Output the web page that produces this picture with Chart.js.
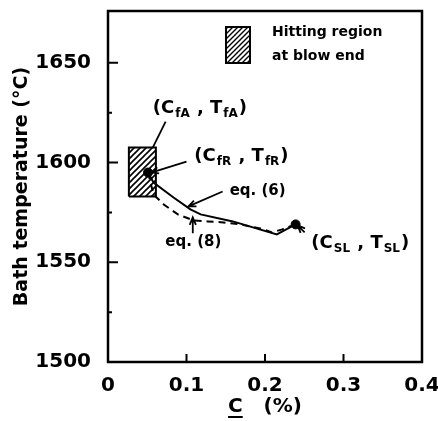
<!DOCTYPE html>
<html><head><meta charset="utf-8">
<script src="https://cdn.jsdelivr.net/npm/chart.js@4.4.0/dist/chart.umd.min.js"></script>
<style>html,body{margin:0;padding:0;background:#fff}</style>
</head><body>
<canvas id="c" width="438" height="421"></canvas>
<script>
// ---- data ----
const eq6C = [0.051, 0.058, 0.0835, 0.105, 0.118, 0.159, 0.215, 0.239];
const eq6T = [1595, 1590, 1582.5, 1576.5, 1574, 1570.5, 1564, 1569];
const eq8C = [0.051, 0.058, 0.071, 0.089, 0.109, 0.127, 0.147, 0.168, 0.194, 0.209, 0.222, 0.239];
const eq8T = [1595, 1584, 1579, 1574, 1571, 1570.5, 1570, 1569, 1567, 1565, 1566.5, 1569];
const regionC = [0.0266, 0.061];
const regionT = [1583, 1607.5];
const pointC = [0.051, 0.239];
const pointT = [1595, 1569];
const xTicks = [0, 0.1, 0.2, 0.3, 0.4];
const xTickLabels = ['0', '0.1', '0.2', '0.3', '0.4'];
const yTicks = [1500, 1550, 1600, 1650];
const yTickLabels = ['1500', '1550', '1600', '1650'];
const yMinorTicks = [1525, 1575, 1625];
const legendLines = ['Hitting region', 'at blow end'];

// annotation texts (parts: [text, isSubscript])
const annFA = [['(',0],['C',0],['fA',1],[' , ',0],['T',0],['fA',1],[')',0]];
const annFR = [['(',0],['C',0],['fR',1],[' , ',0],['T',0],['fR',1],[')',0]];
const annSL = [['(',0],['C',0],['SL',1],[' , ',0],['T',0],['SL',1],[')',0]];
const annEq6 = 'eq. (6)';
const annEq8 = 'eq. (8)';

const FONT = '"DejaVu Sans", sans-serif';
Chart.defaults.font.family = FONT;
Chart.defaults.color = '#000';

const cv = document.getElementById('c');
function makeHatch(size, lw) {
  const t = document.createElement('canvas'); t.width = size; t.height = size;
  const g = t.getContext('2d');
  g.fillStyle = '#fff'; g.fillRect(0, 0, size, size);
  g.strokeStyle = '#000'; g.lineWidth = lw;
  g.beginPath();
  g.moveTo(-1, size + 1); g.lineTo(size + 1, -1);
  g.moveTo(-size / 2 - 1, size / 2 + 1); g.lineTo(size / 2 + 1, -size / 2 - 1);
  g.moveTo(size / 2 - 1, size * 1.5 + 1); g.lineTo(size * 1.5 + 1, size / 2 - 1);
  g.stroke();
  return cv.getContext('2d').createPattern(t, 'repeat');
}
const hatch = makeHatch(6, 1.6);
const hatchSmall = makeHatch(5, 1.4);

function arrow(ctx, x1, y1, x2, y2, head) {
  ctx.beginPath(); ctx.moveTo(x1, y1); ctx.lineTo(x2, y2);
  if (head) {
    const ang = Math.atan2(y2 - y1, x2 - x1), L = 8, s = 0.4;
    ctx.moveTo(x2 - L * Math.cos(ang - s), y2 - L * Math.sin(ang - s));
    ctx.lineTo(x2, y2);
    ctx.lineTo(x2 - L * Math.cos(ang + s), y2 - L * Math.sin(ang + s));
  }
  ctx.stroke();
}
function richText(ctx, x, y, parts, main, sub) {
  let cx = x;
  ctx.textBaseline = 'alphabetic'; ctx.textAlign = 'left';
  parts.forEach(([t, s]) => {
    ctx.font = 'bold ' + (s ? sub : main) + 'px ' + FONT;
    const by = y + main * 0.365 + (s ? 4 : 0);
    if (s) cx += 1;
    ctx.fillText(t, cx, by);
    cx += ctx.measureText(t).width + (s ? 1 : 0);
  });
}

const decor = {
  id: 'decor',
  afterDraw(chart) {
    const { ctx, chartArea: a, scales: { x: xs, y: ys } } = chart;
    const X = v => xs.getPixelForValue(v), Y = v => ys.getPixelForValue(v);
    ctx.save();
    ctx.strokeStyle = '#000'; ctx.fillStyle = '#000';
    // frame
    ctx.lineWidth = 2.5;
    ctx.strokeRect(a.left, a.top, a.right - a.left, a.bottom - a.top);
    // inward ticks
    ctx.lineWidth = 2;
    ctx.beginPath();
    yTicks.forEach(v => { const p = Y(v); ctx.moveTo(a.left, p); ctx.lineTo(a.left + 10, p); });
    yMinorTicks.forEach(v => { const p = Y(v); ctx.moveTo(a.left, p); ctx.lineTo(a.left + 4, p); });
    xTicks.forEach(v => { const p = X(v); ctx.moveTo(p, a.bottom); ctx.lineTo(p, a.bottom - 8); });
    ctx.stroke();
    // legend
    const lx = a.left + 118, ly = a.top + 16;
    ctx.fillStyle = hatchSmall; ctx.fillRect(lx, ly, 24, 36);
    ctx.fillStyle = '#000'; ctx.lineWidth = 2; ctx.strokeRect(lx, ly, 24, 36);
    ctx.font = 'bold 14px ' + FONT; ctx.textBaseline = 'middle'; ctx.textAlign = 'left';
    ctx.fillText(legendLines[0], a.left + 164, a.top + 21);
    ctx.fillText(legendLines[1], a.left + 164, a.top + 45);
    // annotations
    ctx.lineWidth = 1.8;
    richText(ctx, X(0.057), Y(1628), annFA, 18, 12);
    arrow(ctx, X(0.0734), Y(1620.5), X(0.057), Y(1607.5), false);
    richText(ctx, X(0.110), Y(1604), annFR, 18, 12);
    arrow(ctx, X(0.100), Y(1600.5), X(0.055), Y(1595), true);
    ctx.font = 'bold 15px ' + FONT; ctx.textBaseline = 'middle'; ctx.textAlign = 'left';
    ctx.fillText(annEq6, X(0.155), Y(1585.5));
    arrow(ctx, X(0.146), Y(1585.5), X(0.1025), Y(1578), true);
    ctx.fillText(annEq8, X(0.073), Y(1560));
    arrow(ctx, X(0.108), Y(1564.5), X(0.108), Y(1572.5), true);
    richText(ctx, X(0.259), Y(1560.5), annSL, 18, 12);
    arrow(ctx, X(0.2505), Y(1565), X(0.2415), Y(1568.5), true);
    // underline of C in x title
    ctx.font = 'bold 20px ' + FONT;
    const tw = ctx.measureText(xs.options.title.text).width;
    const cw = ctx.measureText('C').width;
    const sx = (xs.left + xs.right) / 2 - tw / 2;
    ctx.lineWidth = 2;
    ctx.beginPath(); ctx.moveTo(sx, 417); ctx.lineTo(sx + cw, 417); ctx.stroke();
    ctx.restore();
  }
};

const pts = (cs, ts) => cs.map((c, i) => ({ x: c, y: ts[i] }));
const rectPts = [
  { x: regionC[0], y: regionT[0] }, { x: regionC[0], y: regionT[1] },
  { x: regionC[1], y: regionT[1] }, { x: regionC[1], y: regionT[0] },
  { x: regionC[0], y: regionT[0] }
];

new Chart(cv, {
  type: 'scatter',
  data: {
    datasets: [
      { label: 'eq. (6)', data: pts(eq6C, eq6T), showLine: true, borderColor: '#000', borderWidth: 2, pointRadius: 0, tension: 0, fill: false, order: 2 },
      { label: 'eq. (8)', data: pts(eq8C, eq8T), showLine: true, borderColor: '#000', borderWidth: 2, borderDash: [7, 5], pointRadius: 0, tension: 0, fill: false, order: 3 },
      { label: 'Hitting region', data: rectPts, showLine: true, borderColor: '#000', borderWidth: 2, backgroundColor: hatch, fill: 'shape', pointRadius: 0, tension: 0, order: 5 },
      { label: 'points', data: pts(pointC, pointT), showLine: false, pointRadius: 4.5, pointBackgroundColor: '#000', pointBorderColor: '#000', order: 0 }
    ]
  },
  options: {
    responsive: false, animation: false, devicePixelRatio: 1,
    layout: { padding: { left: 0, right: 16, top: 11, bottom: 0 } },
    plugins: { legend: { display: false }, tooltip: { enabled: false } },
    scales: {
      x: {
        type: 'linear', min: 0, max: 0.4,
        grid: { display: false }, border: { display: false },
        afterBuildTicks: s => { s.ticks = xTicks.map(v => ({ value: v })); },
        afterFit: s => { s.height = 59; s.paddingLeft = 0; s.paddingRight = 0; },
        ticks: { padding: 4, color: '#000', maxRotation: 0, autoSkip: false, font: { size: 20, weight: 'bold' }, callback: (v, i) => xTickLabels[i] },
        title: { display: true, text: 'C   (%)', color: '#000', font: { size: 20, weight: 'bold' }, padding: { top: 0, bottom: 2 } }
      },
      y: {
        type: 'linear', min: 1500, max: 1676,
        grid: { display: false }, border: { display: false },
        afterBuildTicks: s => { s.ticks = yTicks.map(v => ({ value: v })); },
        afterFit: s => { s.width = 108; s.paddingTop = 0; s.paddingBottom = 0; },
        ticks: { padding: 9, color: '#000', autoSkip: false, font: { size: 20, weight: 'bold' }, callback: (v, i) => yTickLabels[i] },
        title: { display: true, text: 'Bath temperature (°C)', color: '#000', font: { size: 19, weight: 'bold' }, padding: { top: 11, bottom: 0 } }
      }
    }
  },
  plugins: [decor]
});
</script>
</body></html>
